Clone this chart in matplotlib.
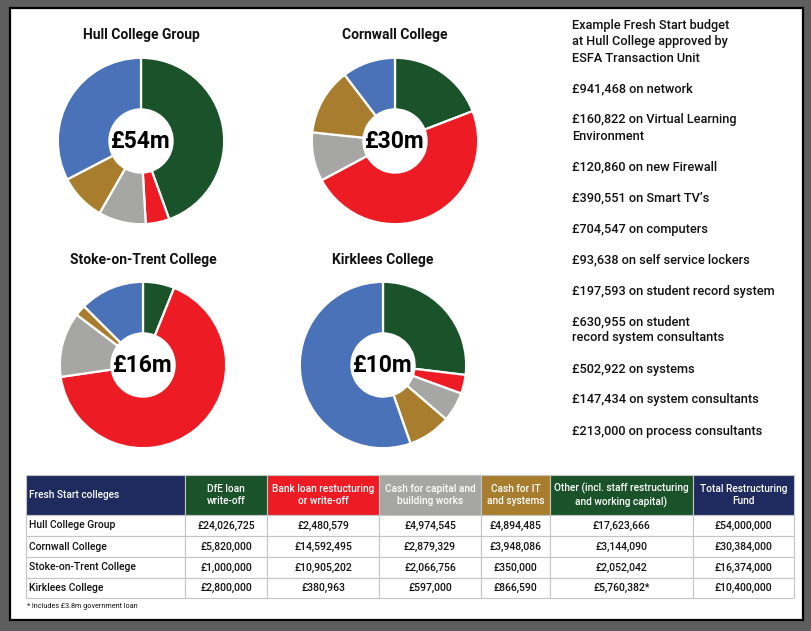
import matplotlib
matplotlib.use("Agg")
import matplotlib.pyplot as plt
from matplotlib.patches import Rectangle

plt.rcParams["font.family"] = ["Roboto", "DejaVu Sans"]

# ---- data -----------------------------------------------------------------
colleges = ["Hull College Group", "Cornwall College",
            "Stoke-on-Trent College", "Kirklees College"]
categories = ["DfE loan\nwrite-off", "Bank loan restucturing\nor write-off",
              "Cash for capital and\nbuilding works", "Cash for IT\nand systems",
              "Other (incl. staff restructuring\nand working capital)"]
dfe_loan = [24026725, 5820000, 1000000, 2800000]
bank_loan = [2480579, 14592495, 10905202, 380963]
capital_works = [4974545, 2879329, 2066756, 597000]
it_systems = [4894485, 3948086, 350000, 866590]
other = [17623666, 3144090, 2052042, 5760382]
totals = [54000000, 30384000, 16374000, 10400000]
other_note = [False, False, False, True]

budget_title = ["Example Fresh Start budget", "at Hull College approved by",
                "ESFA Transaction Unit"]
budget_items = [
    ["£941,468 on network"],
    ["£160,822 on Virtual Learning", "Environment"],
    ["£120,860 on new Firewall"],
    ["£390,551 on Smart TV’s"],
    ["£704,547 on computers"],
    ["£93,638 on self service lockers"],
    ["£197,593 on student record system"],
    ["£630,955 on student", "record system consultants"],
    ["£502,922 on systems"],
    ["£147,434 on system consultants"],
    ["£213,000 on process consultants"],
]
footnote = "* Includes £3.8m government loan"

# ---- style ----------------------------------------------------------------
GREEN = "#1a5229"
RED = "#ed1c24"
GREY = "#a6a6a5"
GOLD = "#a87d2d"
BLUE = "#4a72b8"
NAVY = "#1f2a5e"
pie_colors = [GREEN, RED, GREY, GOLD, BLUE]
header_colors = [NAVY, GREEN, RED, GREY, GOLD, GREEN, NAVY]

W, H = 811, 631
fig = plt.figure(figsize=(W / 100, H / 100), dpi=100)
fig.patch.set_facecolor("#5e5e5e")

ax = fig.add_axes([0, 0, 1, 1])
ax.set_xlim(0, W)
ax.set_ylim(H, 0)
ax.axis("off")
ax.add_patch(Rectangle((10, 8), 793, 612, facecolor="white",
                       edgecolor="black", linewidth=1.6))


def fmt(v):
    return f"£{v:,.0f}"


# ---- pies -----------------------------------------------------------------
pie_centers = [(141, 141), (395, 141), (143, 365), (383, 365)]
title_y = [35, 35, 260, 260]
R = 84
for i, name in enumerate(colleges):
    cx, cy = pie_centers[i]
    vals = [dfe_loan[i], bank_loan[i], capital_works[i], it_systems[i], other[i]]
    pax = fig.add_axes([(cx - R) / W, 1 - (cy + R) / H, 2 * R / W, 2 * R / H])
    pax.pie(vals, colors=pie_colors, startangle=90, counterclock=False,
            wedgeprops=dict(width=0.62, edgecolor="white", linewidth=1.6))
    pax.set_xlim(-1.01, 1.01)
    pax.set_ylim(-1.01, 1.01)
    pax.text(0, 0, f"£{round(totals[i] / 1e6):.0f}m", ha="center", va="center",
             fontsize=16.5, fontweight="bold", color="black")
    ax.text(cx, title_y[i], name, ha="center", va="center", fontsize=10,
            fontweight="bold", color="#111111")

# ---- right-hand text ------------------------------------------------------
tx = 572
for j, line in enumerate(budget_title):
    ax.text(tx, 26 + 16 * j, line, ha="left", va="center", fontsize=9.2,
            fontweight="medium", color="#111111")
y = 89
for item in budget_items:
    for j, line in enumerate(item):
        ax.text(tx, y + 16 * j, line, ha="left", va="center", fontsize=9.2,
                fontweight="medium", color="#111111")
    y += 31 + 16 * (len(item) - 1)

# ---- table ----------------------------------------------------------------
col_edges = [26, 185, 267, 379, 481, 550, 693, 794]
head_top, head_bot = 475, 515
row_edges = [515, 536, 557, 578, 598]
grid = "#c4c4c4"

headers = ["Fresh Start colleges"] + categories + ["Total Restructuring\nFund"]
for c, label in enumerate(headers):
    x0, x1 = col_edges[c], col_edges[c + 1]
    ax.add_patch(Rectangle((x0, head_top), x1 - x0, head_bot - head_top,
                           facecolor=header_colors[c], edgecolor=grid, linewidth=0.8))
    if c == 0:
        ax.text(x0 + 3, (head_top + head_bot) / 2, label, ha="left", va="center",
                fontsize=7.3, color="white", fontweight="medium")
    else:
        ax.text((x0 + x1) / 2, (head_top + head_bot) / 2, label, ha="center",
                va="center", fontsize=7.3, color="white", fontweight="medium",
                linespacing=1.25)

for r, name in enumerate(colleges):
    y0, y1 = row_edges[r], row_edges[r + 1]
    cells = [name, fmt(dfe_loan[r]), fmt(bank_loan[r]), fmt(capital_works[r]),
             fmt(it_systems[r]), fmt(other[r]) + ("*" if other_note[r] else ""),
             fmt(totals[r])]
    for c, txt in enumerate(cells):
        x0, x1 = col_edges[c], col_edges[c + 1]
        ax.add_patch(Rectangle((x0, y0), x1 - x0, y1 - y0, facecolor="white",
                               edgecolor=grid, linewidth=0.8))
        if c == 0:
            ax.text(x0 + 3, (y0 + y1) / 2, txt, ha="left", va="center",
                    fontsize=7.5, color="#111111", fontweight="medium")
        else:
            ax.text((x0 + x1) / 2, (y0 + y1) / 2, txt, ha="center", va="center",
                    fontsize=7.5, color="#111111", fontweight="medium")

ax.text(27, 606, footnote, ha="left", va="center", fontsize=5.2, color="#111111")

fig.savefig("out.png", dpi=100, facecolor=fig.get_facecolor())
